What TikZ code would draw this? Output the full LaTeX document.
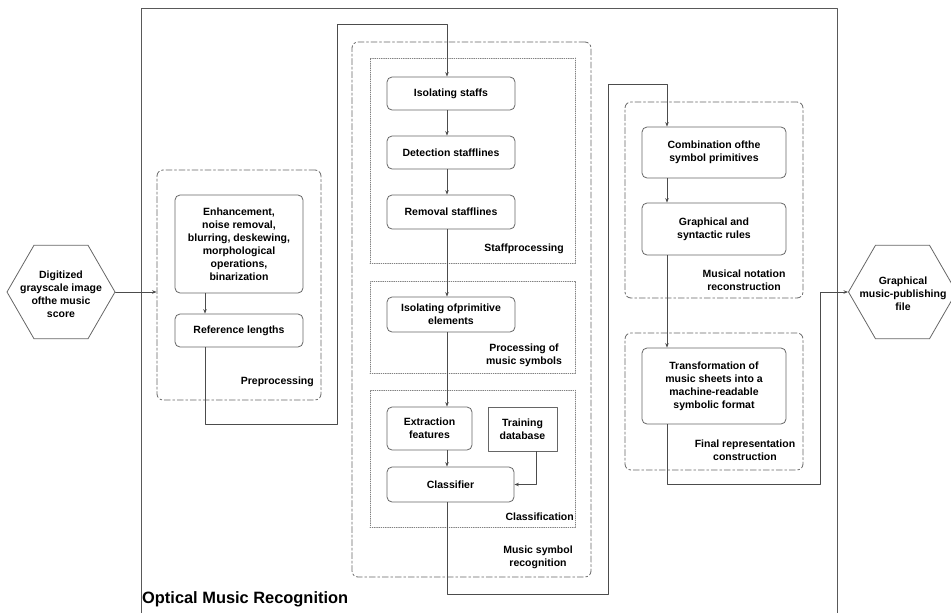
\documentclass[tikz,border=0pt]{standalone}
\usepackage{fontspec}
\setmainfont{Liberation Sans}
\usepackage{tikz}
\usetikzlibrary{arrows.meta,fit,shapes.geometric}
\newcommand{\omrfont}{\fontsize{10.5}{13}\selectfont\bfseries}
\tikzset{
  omr line/.style={draw=black!70,line width=.8pt},
  omr arrow/.style={omr line,-{Stealth[length=4.5pt,width=3.5pt]}},
  task/.style={draw=black!60,line width=.8pt,rounded corners=5pt,align=center,inner sep=0pt,font=\omrfont},
  group/.style={draw=black!60,line width=.8pt,dash pattern=on 6pt off 2.5pt on 2pt off 2.5pt,rounded corners=6pt,inner sep=0pt},
  subgroup/.style={draw=black!50,line width=.7pt,dash pattern=on .8pt off 1.4pt,inner sep=0pt},
  group label/.style={font=\omrfont,align=center,inner sep=0pt},
  hexa/.style={draw=black!60,line width=.8pt,regular polygon,regular polygon sides=6,minimum size=108pt,inner sep=0pt},
  frame/.style={draw=black!65,line width=1pt}
}
\begin{document}
\begin{tikzpicture}[x=1pt,y=-1pt,line cap=round,line join=round]
  \clip (0,0) rectangle (951,613);
  \draw[frame] (141,620) -- (141,8) -- (837,8) -- (837,620);
  \node[font=\fontsize{16.4}{18}\selectfont\bfseries,anchor=base west,inner sep=0pt] (title) at (142,603) {Optical Music Recognition};

  % groups
  \node[group,fit={(157,170) (321,400)}] (prep) {};
  \node[group,fit={(352,42) (591,577)}] (msr) {};
  \node[subgroup,fit={(370,58) (575,263)}] (staff) {};
  \node[subgroup,fit={(370,281) (575,373)}] (symb) {};
  \node[subgroup,fit={(370,390) (575,527)}] (clsg) {};
  \node[group,fit={(625,102) (803,298)}] (notat) {};
  \node[group,fit={(625,333) (803,470)}] (final) {};

  \node[group label,anchor=east] at (314,382) {Preprocessing};
  \node[group label,anchor=east] at (564,249) {Staffprocessing};
  \node[group label] at (524,355) {Processing of\\music symbols};
  \node[group label,anchor=east] at (574,517) {Classification};
  \node[group label] at (538,557) {Music symbol\\recognition};
  \node[group label] at (744,280) {Musical notation\\reconstruction};
  \node[group label] at (745,450) {Final representation\\construction};

  % in and out
  \node[hexa] (src) at (61,292) {};
  \node[group label] at (61,294) {Digitized\\grayscale image\\ofthe music\\score};
  \node[hexa] (out) at (902.5,292) {};
  \node[group label] at (903,294) {Graphical\\music-publishing\\file};

  % tasks
  \node[task,minimum width=128pt,minimum height=98pt] (enh) at (239,244) {Enhancement,\\noise removal,\\blurring, deskewing,\\morphological\\operations,\\binarization};
  \node[task,minimum width=128pt,minimum height=33pt] (ref) at (239,330.5) {Reference lengths};
  \node[task,minimum width=128pt,minimum height=33pt] (iso) at (451,93.5) {Isolating staffs};
  \node[task,minimum width=128pt,minimum height=33pt] (det) at (451,152.5) {Detection stafflines};
  \node[task,minimum width=128pt,minimum height=34pt] (rem) at (451,212) {Removal stafflines};
  \node[task,minimum width=128pt,minimum height=35pt] (prim) at (451,314.5) {Isolating ofprimitive\\elements};
  \node[task,minimum width=85pt,minimum height=43pt] (ext) at (429.5,428.5) {Extraction\\features};
  \node[task,sharp corners,minimum width=69pt,minimum height=44pt] (train) at (522.5,429) {Training\\database};
  \node[task,minimum width=127pt,minimum height=35pt] (cls) at (450.5,484.5) {Classifier};
  \node[task,minimum width=144pt,minimum height=51pt] (comb) at (714,152.5) {Combination ofthe\\symbol primitives};
  \node[task,minimum width=144pt,minimum height=52pt] (gram) at (714,229) {Graphical and\\syntactic rules};
  \node[task,minimum width=144pt,minimum height=76pt] (trans) at (714,386) {Transformation of\\music sheets into a\\machine-readable\\symbolic format};

  % bends of the connectors
  \coordinate (w1) at (337,424);
  \coordinate (w2) at (447,24);
  \coordinate (w3) at (608,594);
  \coordinate (w4) at (667,84);
  \coordinate (w5) at (820,484);

  \draw[omr arrow] (src.east) -- (src.east -| prep.west);
  \draw[omr arrow] ([xshift=-34pt]enh.south) -- ([xshift=-34pt]ref.north);
  \draw[omr arrow] ([xshift=-34pt]ref.south) |- (w1) |- (w2) -- (iso.north -| w2);
  \foreach \a/\b in {iso/det,det/rem,rem/prim,prim/ext,ext/cls} {
    \draw[omr arrow] (\a.south -| w2) -- (\b.north -| w2);
  }
  \draw[omr arrow] ([xshift=13.5pt]train.south) |- (cls.east);
  \draw[omr arrow] (cls.south -| w2) |- (w3) |- (w4) -- (comb.north -| w4);
  \draw[omr arrow] (comb.south -| w4) -- (gram.north -| w4);
  \draw[omr arrow] (gram.south -| w4) -- (trans.north -| w4);
  \draw[omr arrow] (trans.south -| w4) |- (w5) |- (out.west);
\end{tikzpicture}
\end{document}
